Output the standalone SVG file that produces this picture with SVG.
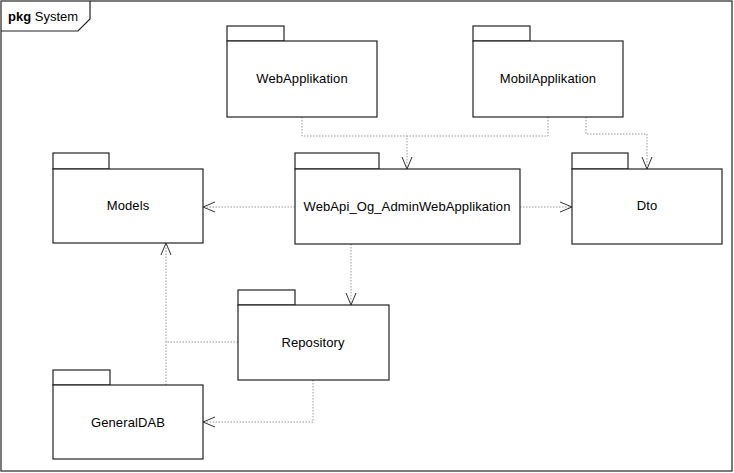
<svg xmlns="http://www.w3.org/2000/svg" width="734" height="473" viewBox="0 0 734 473">
<defs>
<style>
.frame{fill:#fff;stroke:#222;stroke-width:1.2}
.pkg{fill:#fff;stroke:#222;stroke-width:1.2}
.lbl{font-family:"Liberation Sans",Arial,sans-serif;font-size:13px;fill:#000;text-anchor:middle;letter-spacing:0.1px}
.dep{fill:none;stroke:#999;stroke-width:1;stroke-dasharray:1.5,1.5}
</style>
<marker id="open" viewBox="0 0 12 12" refX="12" refY="6" markerWidth="12" markerHeight="12" markerUnits="userSpaceOnUse" orient="auto">
<path d="M0,1 L12,6 L0,11" fill="none" stroke="#333" stroke-width="1"/>
</marker>
</defs>
<rect width="734" height="473" fill="#fff"/>
<g id="frame">
<rect class="frame" x="1" y="1" width="731" height="470"/>
<polyline fill="none" stroke="#222" stroke-width="1.2" points="1,31 78,31 90,19 90,1"/>
<text x="8" y="21" font-family="Liberation Sans,Arial,sans-serif" font-size="13"><tspan font-weight="bold">pkg</tspan> System</text>
</g>
<g id="connectors">
<path class="dep" d="M302,117 V136 H407 V169" marker-end="url(#open)"/>
<path class="dep" d="M548,117 V136 H407"/>
<path class="dep" d="M586,117 V134 H647 V169" marker-end="url(#open)"/>
<path class="dep" d="M295,207 H203" marker-end="url(#open)"/>
<path class="dep" d="M520,207 H572" marker-end="url(#open)"/>
<path class="dep" d="M351,244 V305" marker-end="url(#open)"/>
<path class="dep" d="M238,342 H166 V243" marker-end="url(#open)"/>
<path class="dep" d="M166,385 V342"/>
<path class="dep" d="M313,380 V422 H203" marker-end="url(#open)"/>
</g>
<g id="WebApplikation">
<rect class="pkg" x="227" y="26" width="57" height="15"/>
<rect class="pkg" x="227" y="41" width="150" height="76"/>
<text class="lbl" x="302" y="83">WebApplikation</text>
</g>
<g id="MobilApplikation">
<rect class="pkg" x="473" y="26" width="57" height="15"/>
<rect class="pkg" x="473" y="41" width="150" height="76"/>
<text class="lbl" x="548" y="83">MobilApplikation</text>
</g>
<g id="WebApi_Og_AdminWebApplikation">
<rect class="pkg" x="295" y="153" width="84" height="16"/>
<rect class="pkg" x="295" y="169" width="225" height="75"/>
<text class="lbl" x="407" y="211">WebApi_Og_AdminWebApplikation</text>
</g>
<g id="Models">
<rect class="pkg" x="53" y="153" width="56" height="16"/>
<rect class="pkg" x="53" y="169" width="150" height="74"/>
<text class="lbl" x="128" y="210">Models</text>
</g>
<g id="Dto">
<rect class="pkg" x="572" y="153" width="56" height="16"/>
<rect class="pkg" x="572" y="169" width="150" height="75"/>
<text class="lbl" x="647" y="210">Dto</text>
</g>
<g id="Repository">
<rect class="pkg" x="238" y="290" width="57" height="15"/>
<rect class="pkg" x="238" y="305" width="151" height="75"/>
<text class="lbl" x="313" y="347">Repository</text>
</g>
<g id="GeneralDAB">
<rect class="pkg" x="53" y="370" width="57" height="15"/>
<rect class="pkg" x="53" y="385" width="150" height="74"/>
<text class="lbl" x="128" y="427">GeneralDAB</text>
</g>
</svg>
